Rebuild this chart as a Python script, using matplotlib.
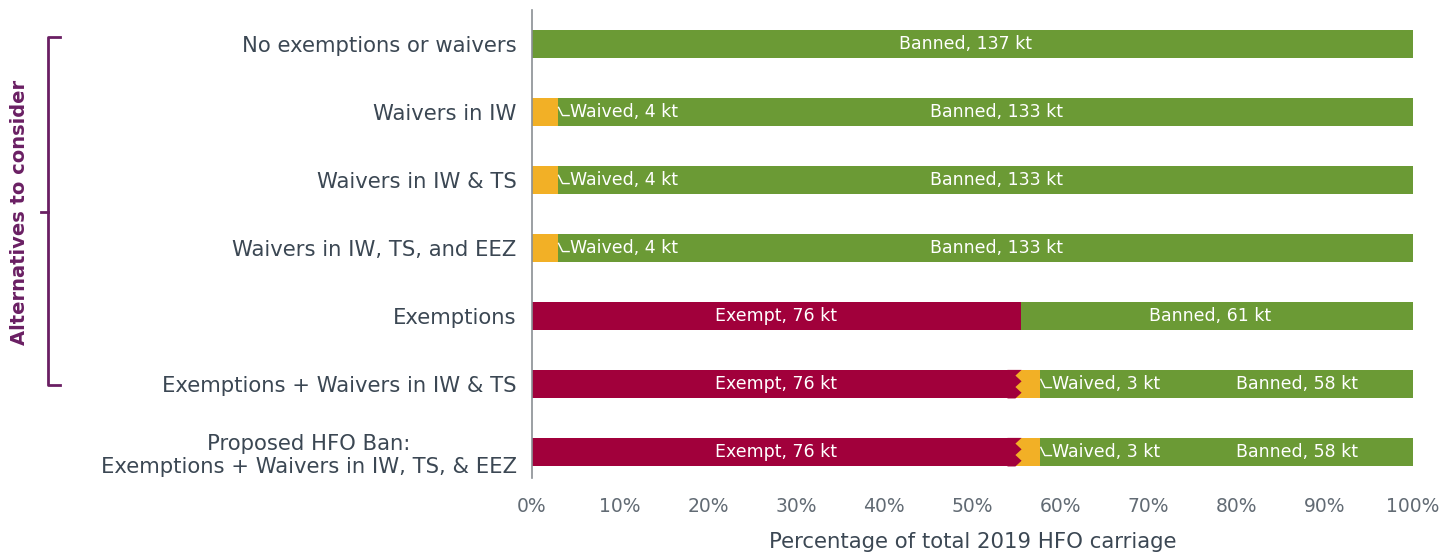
import matplotlib.pyplot as plt
from matplotlib.lines import Line2D
from matplotlib.patches import Polygon
import numpy as np

plt.rcParams['font.family'] = ['DejaVu Sans']

# HFO carriage per scenario, kt
scenarios = ["No exemptions or waivers",
             "Waivers in IW",
             "Waivers in IW & TS",
             "Waivers in IW, TS, and EEZ",
             "Exemptions",
             "Exemptions + Waivers in IW & TS",
             "Proposed HFO Ban:\nExemptions + Waivers in IW, TS, & EEZ"]
exempt = [0, 0, 0, 0, 76, 76, 76]
waived = [0, 4, 4, 4, 0, 3, 3]
banned = [137, 133, 133, 133, 61, 58, 58]
xticks = [0, 10, 20, 30, 40, 50, 60, 70, 80, 90, 100]

red = "#a1003b"
orange = "#f2b026"
green = "#6b9a35"
txt = "#3b4753"
purple = "#6a1f63"

fig = plt.figure(figsize=(14.44, 5.57), dpi=100)
ax = fig.add_axes([0.3684, 0.1418, 0.6101, 0.840])

y = np.arange(len(scenarios))
tot = np.array(exempt) + np.array(waived) + np.array(banned)
ex_p = np.array(exempt) / tot * 100
wv_p = np.array(waived) / tot * 100
bn_p = np.array(banned) / tot * 100
h = 0.42

ax.barh(y, ex_p, height=h, color=red)
ax.barh(y, wv_p, left=ex_p, height=h, color=orange)
ax.barh(y, bn_p, left=ex_p + wv_p, height=h, color=green)

lab = dict(color="white", fontsize=12.5, va="center")
for i in range(len(y)):
    if exempt[i] > 0:
        ax.text(ex_p[i] / 2, y[i], f"Exempt, {exempt[i]} kt", ha="center", **lab)
        if waived[i] > 0:
            # torn edge between exempt and waived
            b = ex_p[i]
            ax.barh(y[i], 0.6, left=b - 0.6, height=h, color=orange, lw=0)
            ys = np.linspace(y[i] - h / 2, y[i] + h / 2, 6)
            xs = [b - 0.6 if k % 2 else b + 0.1 for k in range(len(ys))]
            pts = [(b - 1.5, y[i] - h / 2)] + list(zip(xs, ys)) + [(b - 1.5, y[i] + h / 2)]
            ax.add_patch(Polygon(pts, closed=True, color=red, lw=0))
    if waived[i] > 0:
        e = ex_p[i] + wv_p[i]
        ax.plot([e + 0.1, e + 0.55, e + 1.3], [y[i] - 0.07, y[i] + 0.05, y[i] + 0.05],
                color="white", lw=1)
        ax.text(e + 1.4, y[i], f"Waived, {waived[i]} kt", ha="left", **lab)
        bx = 86.8 if exempt[i] > 0 else e + bn_p[i] / 2 + 1.3
    else:
        bx = ex_p[i] + bn_p[i] / 2 - 0.8
    ax.text(bx, y[i], f"Banned, {banned[i]} kt", ha="center", **lab)

ax.set_xlim(0, 100)
ax.set_ylim(6.38, -0.5)
ax.set_yticks(y)
ax.set_yticklabels(scenarios, fontsize=15.2, color=txt, multialignment="center")
ax.set_xticks(xticks)
ax.set_xticklabels([f"{v}%" for v in xticks], fontsize=13.5, color="#626b74")
ax.tick_params(length=0, pad=11)
ax.tick_params(axis="x", pad=14)
for s in ["top", "right", "bottom"]:
    ax.spines[s].set_visible(False)
ax.spines["left"].set_color("#8a8f94")
ax.spines["left"].set_linewidth(1.2)
ax.set_xlabel("Percentage of total 2019 HFO carriage", fontsize=15.3,
              color=txt, labelpad=11)

# bracket on the left
W, H = 1444, 557
def fx(px): return px / W
def fy(py): return 1 - py / H
fig.add_artist(Line2D([fx(60), fx(48), fx(48), fx(60)],
                      [fy(37), fy(37), fy(385), fy(385)], color=purple, lw=2))
fig.add_artist(Line2D([fx(41), fx(48)], [fy(212), fy(212)], color=purple, lw=2))
fig.text(fx(20), fy(212), "Alternatives to consider", rotation=90, ha="center",
         va="center", fontsize=14, fontweight="bold", color=purple)

fig.savefig("out.png", dpi=100)
